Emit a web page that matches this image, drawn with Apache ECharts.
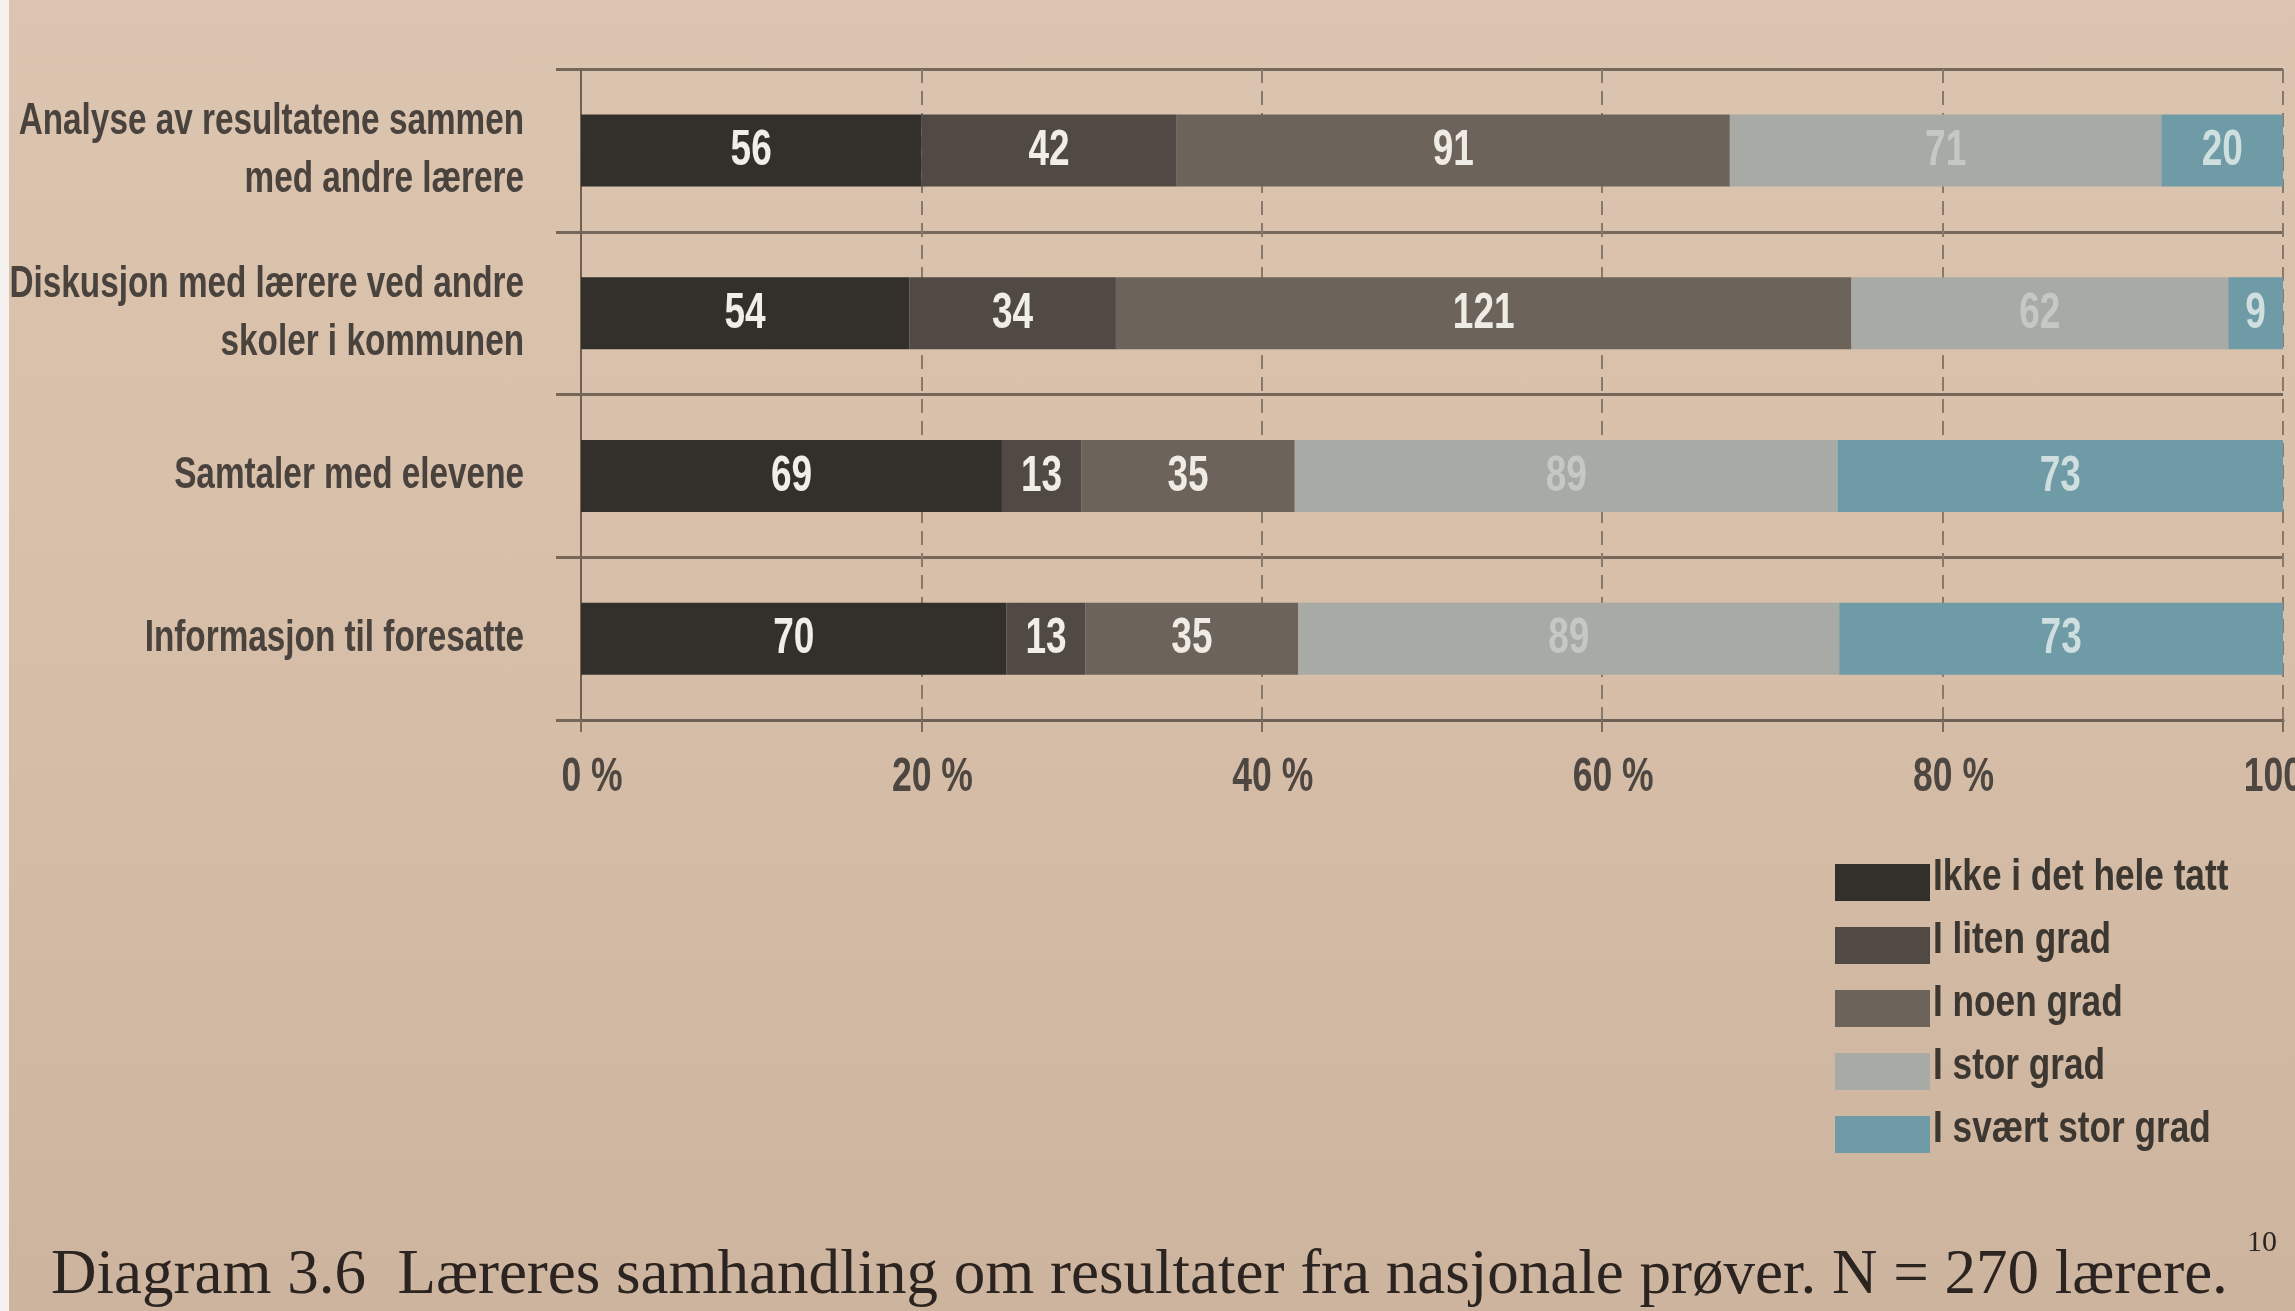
<!DOCTYPE html>
<html>
<head>
<meta charset="utf-8">
<script src="https://cdn.jsdelivr.net/npm/echarts@6/dist/echarts.min.js"></script>
<style>
  html, body { margin: 0; padding: 0; }
  body { width: 2295px; height: 1311px; overflow: hidden;
         background: linear-gradient(180deg, #dcc5b0 0%, #d7bfa9 45%, #cdb49e 100%); }
  #edge { position: absolute; left: 0; top: 0; width: 9px; height: 1311px; background: #f4f1ee; }
  #chart { position: absolute; left: 0; top: 0; width: 2295px; height: 1311px; }
</style>
</head>
<body>
<div id="edge"></div>
<div id="chart"></div>
<script>
// Spørsmål (kategorier), øverst først
const categories = [
  'Analyse av resultatene sammen\nmed andre lærere',
  'Diskusjon med lærere ved andre\nskoler i kommunen',
  'Samtaler med elevene',
  'Informasjon til foresatte'
];

// Antall lærere per svaralternativ
const ikkeIDetHeleTatt = [56, 54, 69, 70];
const iLitenGrad       = [42, 34, 13, 13];
const iNoenGrad        = [91, 121, 35, 35];
const iStorGrad        = [71, 62, 89, 89];
const iSvaertStorGrad  = [20, 9, 73, 73];

const seriesNames = ['Ikke i det hele tatt', 'I liten grad', 'I noen grad', 'I stor grad', 'I svært stor grad'];
const xTicks = [0, 20, 40, 60, 80, 100];
const xTickLabels = ['0 %', '20 %', '40 %', '60 %', '80 %', '100 %'];
const caption = 'Diagram 3.6  Læreres samhandling om resultater fra nasjonale prøver. N = 270 lærere.';
const footnote = '10';

// Smal, fet skrift: vanlig fet sans-serif klemt sammen horisontalt
const sans = '"Liberation Sans", Arial, sans-serif';
const serif = '"Liberation Serif", "DejaVu Serif", serif';
const SQUEEZE = 0.74;

const counts = [ikkeIDetHeleTatt, iLitenGrad, iNoenGrad, iStorGrad, iSvaertStorGrad];
const totals = categories.map((_, i) => counts.reduce((s, arr) => s + arr[i], 0));
const percents = counts.map(arr => arr.map((v, i) => v / totals[i] * 100));

const barColors = ['#33302c', '#514a44', '#6c645b', '#a8aba5', '#6e9ba6'];
const labelColors = ['#f1ede7', '#f1ede7', '#efebe5', '#c6c9c3', '#cfdede'];

const chart = echarts.init(document.getElementById('chart'), null, { renderer: 'canvas' });

const legendLeft = 1830, legendTop = 859, swatchW = 95, swatchH = 37, swatchGap = 26;

chart.setOption({
  animation: false,
  backgroundColor: 'transparent',
  grid: { left: 581, right: 12, top: 69, height: 651, outerBoundsMode: 'none', containLabel: false },
  legend: {
    orient: 'vertical',
    left: legendLeft,
    top: legendTop,
    itemWidth: swatchW,
    itemHeight: swatchH,
    itemGap: swatchGap,
    icon: 'rect',
    data: seriesNames,
    formatter: () => '',
    textStyle: { fontSize: 1, color: 'transparent' }
  },
  xAxis: {
    type: 'value',
    min: 0,
    max: 100,
    interval: 20,
    axisLine: { show: true, lineStyle: { color: '#6f6055', width: 3 } },
    axisTick: { show: true, length: 12, lineStyle: { color: '#7a6b5f', width: 2 } },
    splitLine: { show: true, lineStyle: { color: '#88796d', width: 2, type: [14, 8] } },
    axisLabel: { show: false }
  },
  yAxis: {
    type: 'category',
    inverse: true,
    data: categories,
    axisLine: { show: true, lineStyle: { color: '#6f6055', width: 2 } },
    axisTick: { show: true, length: 25, lineStyle: { color: '#76675b', width: 3 } },
    splitLine: { show: true, lineStyle: { color: '#76675b', width: 3 } },
    axisLabel: { show: false }
  },
  series: percents.map((data, s) => ({
    name: seriesNames[s],
    type: 'bar',
    stack: 'total',
    barWidth: 72,
    itemStyle: { color: barColors[s] },
    data: data
  }))
});

// Tekst tegnes som grafikk slik at den kan gjøres smal (scaleX)
const graphics = [];
const narrowText = (x, y, text, opts) => ({
  type: 'text',
  x: x, y: y,
  z: 100,
  scaleX: opts.scaleX || SQUEEZE,
  silent: true,
  style: {
    text: text,
    x: 0, y: 0,
    align: opts.align || 'center',
    verticalAlign: 'middle',
    fontFamily: sans,
    fontWeight: 'bold',
    fontSize: opts.fontSize,
    lineHeight: opts.lineHeight,
    fill: opts.color
  }
});

// Verdietiketter midt i hvert segment
categories.forEach((_, i) => {
  let start = 0;
  percents.forEach((data, s) => {
    const mid = start + data[i] / 2;
    start += data[i];
    const [px, py] = chart.convertToPixel({ gridIndex: 0 }, [mid, i]);
    graphics.push(narrowText(px, py + 1, String(counts[s][i]), { fontSize: 50, color: labelColors[s] }));
  });
});

// Kategorietiketter
categories.forEach((c, i) => {
  const py = chart.convertToPixel({ yAxisIndex: 0 }, i);
  graphics.push(narrowText(524, py, c, { align: 'right', fontSize: 45, lineHeight: 58, color: '#4a433d' }));
});

// Prosentetiketter under aksen
xTicks.forEach((v, k) => {
  const px = chart.convertToPixel({ xAxisIndex: 0 }, v);
  graphics.push(narrowText(px + 11, 778, xTickLabels[k], { fontSize: 48, color: '#4e4640' }));
});

// Forklaringstekster ved fargefeltene
seriesNames.forEach((n, s) => {
  const py = legendTop + s * (swatchH + swatchGap) + swatchH / 2;
  graphics.push(narrowText(legendLeft + swatchW + 8, py, n, { align: 'left', fontSize: 44, scaleX: 0.8, color: '#3d3731' }));
});

// Figurtekst
graphics.push({
  type: 'text', x: 51, y: 1276, z: 100, silent: true,
  style: { text: caption, x: 0, y: 0, verticalAlign: 'middle', fontFamily: serif, fontSize: 63, fill: '#2b2420' }
});
graphics.push({
  type: 'text', x: 2247, y: 1243, z: 100, silent: true,
  style: { text: footnote, x: 0, y: 0, verticalAlign: 'middle', fontFamily: serif, fontSize: 30, fill: '#2b2420' }
});

chart.setOption({ graphic: graphics });
</script>
</body>
</html>
